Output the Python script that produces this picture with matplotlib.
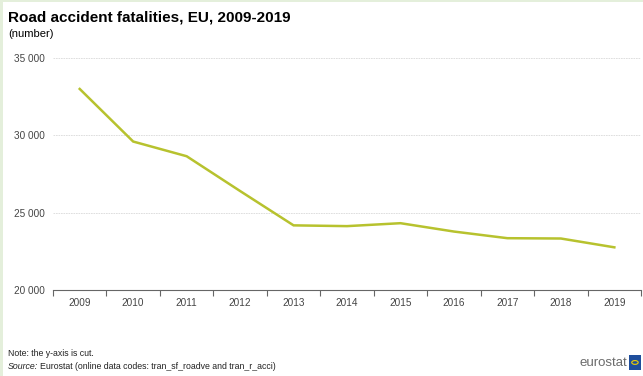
import numpy as np
import matplotlib
matplotlib.use("Agg")
import matplotlib.pyplot as plt
from matplotlib.patches import Rectangle, Circle

plt.rcParams['font.family'] = ['Liberation Sans', 'DejaVu Sans']

years = [2009, 2010, 2011, 2012, 2013, 2014, 2015, 2016, 2017, 2018, 2019]
fatalities = [33000, 29600, 28650, 26400, 24180, 24130, 24320, 23780, 23350, 23330, 22760]
y_ticks = [20000, 25000, 30000, 35000]
y_labels = ["20 000", "25 000", "30 000", "35 000"]

fig = plt.figure(figsize=(6.43, 3.76), dpi=100)
ax = fig.add_axes([0.0824, 0.2287, 0.9146, 0.617])

x = np.arange(len(years))
ax.plot(x, fatalities, color="#b7c22e", lw=1.8, solid_joinstyle="miter")

ax.set_xlim(-0.5, len(years) - 0.5)
ax.set_ylim(20000, 35000)
ax.set_yticks(y_ticks)
ax.set_yticklabels(y_labels)
ax.set_xticks(x)
ax.set_xticklabels([str(y) for y in years])
ax.set_xticks(np.arange(-0.5, len(years)), minor=True)

ax.tick_params(axis="y", length=0, labelsize=7.2, colors="#444444", pad=6)
ax.tick_params(axis="x", which="major", length=0, labelsize=7.2, colors="#444444", pad=6)
ax.tick_params(axis="x", which="minor", length=4, width=0.8, color="#666666")

for v in y_ticks[1:]:
    ax.axhline(v, color="#d9d9d9", lw=0.6, ls=(0, (2, 1)), zorder=0)

for s in ["top", "right", "left"]:
    ax.spines[s].set_visible(False)
ax.spines["bottom"].set_color("#666666")
ax.spines["bottom"].set_linewidth(0.8)

fig.text(0.0125, 0.953, "Road accident fatalities, EU, 2009-2019", fontsize=11,
         fontweight="bold", va="center", ha="left", color="#000000")
fig.text(0.0125, 0.91, "(number)", fontsize=8, va="center", ha="left", color="#000000")

fig.text(0.0125, 0.061, "Note: the y-axis is cut.", fontsize=6.3, va="center", ha="left", color="#222222")
fig.text(0.0125, 0.024, "Source:", fontsize=6.3, style="italic", va="center", ha="left", color="#222222")
fig.text(0.0615, 0.024, "Eurostat (online data codes: tran_sf_roadve and tran_r_acci)",
         fontsize=6.3, va="center", ha="left", color="#222222")

# eurostat logo
fig.text(0.976, 0.035, "eurostat", fontsize=9.5, color="#6b6b6b", va="center", ha="right")
fig.patches.append(Rectangle((0.978, 0.016), 0.019, 0.04, transform=fig.transFigure,
                             facecolor="#1f4e9c", edgecolor="none"))
fig.patches.append(Circle((0.9875, 0.036), 0.005, transform=fig.transFigure,
                          facecolor="none", edgecolor="#f2d200", lw=0.8))

# pale green frame
fig.patches.append(Rectangle((0, 0), 0.005, 1, transform=fig.transFigure,
                             facecolor="#e4efdb", edgecolor="none"))
fig.patches.append(Rectangle((0, 0.994), 1, 0.006, transform=fig.transFigure,
                             facecolor="#e4efdb", edgecolor="none"))

fig.savefig("out.png", dpi=100)
